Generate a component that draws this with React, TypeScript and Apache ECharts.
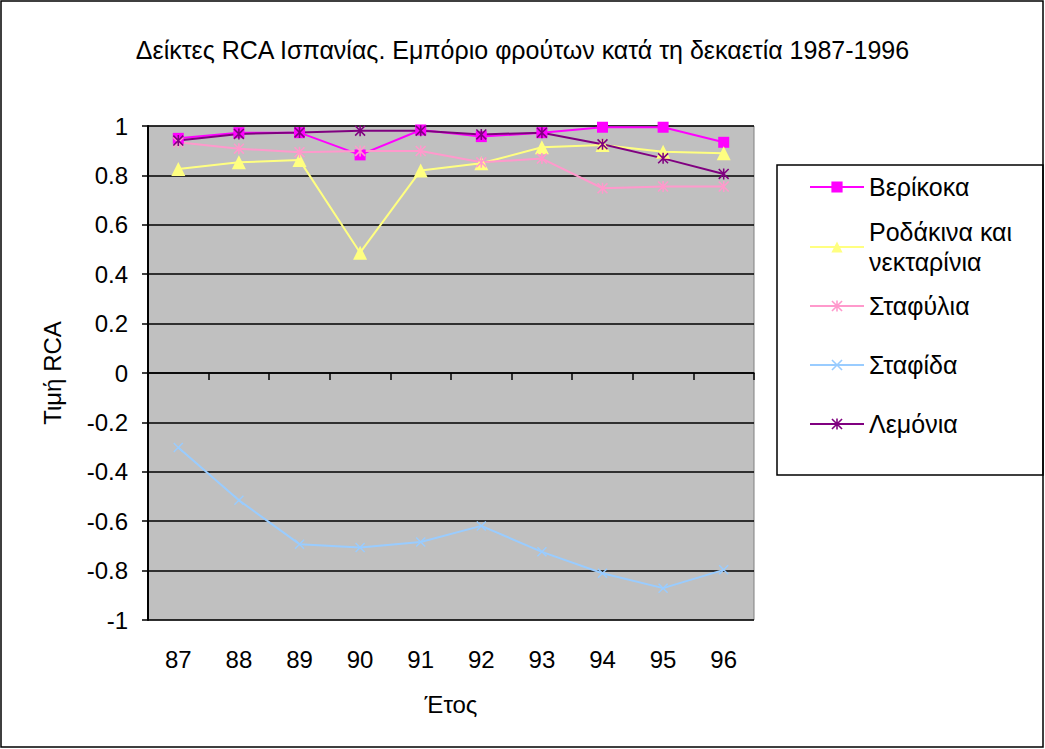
import React, { useEffect, useRef } from "react";
import * as echarts from "echarts";

const titleText = "Δείκτες RCA Ισπανίας. Εμπόριο φρούτων κατά τη δεκαετία 1987-1996";
const years = ["87", "88", "89", "90", "91", "92", "93", "94", "95", "96"];
const seriesNames = ["Βερίκοκα", "Ροδάκινα και νεκταρίνια", "Σταφύλια", "Σταφίδα", "Λεμόνια"];
const apricots = [0.95, 0.973, 0.973, 0.883, 0.984, 0.957, 0.973, 0.995, 0.995, 0.934];
const peaches = [0.826, 0.853, 0.862, 0.487, 0.82, 0.849, 0.914, 0.923, 0.896, 0.89];
const grapes = [0.934, 0.908, 0.894, 0.899, 0.899, 0.853, 0.868, 0.748, 0.755, 0.755];
const raisins = [-0.302, -0.515, -0.693, -0.706, -0.684, -0.619, -0.724, -0.811, -0.871, -0.797];
const lemons = [0.941, 0.968, 0.974, 0.981, 0.981, 0.966, 0.973, 0.926, 0.869, 0.806];
const seriesColors = ["#FF00FF", "#FFFF80", "#FF99CC", "#99CCFF", "#800080"];
const legendCenters = [187, 247, 306, 365, 424];

const FONT = "'Liberation Sans', Arial, sans-serif";
const STAR = "path://M4.3 0H5.7V10H4.3Z M0 1L1 0L10 9L9 10Z M9 0L10 1L1 10L0 9Z";
const CROSS = "path://M0 1L1 0L10 9L9 10Z M9 0L10 1L1 10L0 9Z";

export default function App() {
  const ref = useRef<HTMLDivElement>(null);
  useEffect(() => {
    document.body.style.margin = "0";
    const chart = echarts.init(ref.current!, null, { renderer: "svg" });
    const dataSets = [apricots, peaches, grapes, raisins, lemons];
    const symbols = ["rect", "triangle", STAR, CROSS, STAR];
    const sizes = [11, 14, 11, 10, 11];

    const legends = seriesNames.map((name, i) => {
      const twoLine = i === 1;
      const lh = twoLine ? 30 : 28;
      const blockH = twoLine ? 90 : 28;
      return {
        data: [name],
        orient: "vertical",
        left: 809,
        top: legendCenters[i] - blockH / 2,
        padding: 0,
        itemWidth: 54,
        itemHeight: 14,
        itemGap: 0,
        selectedMode: false,
        formatter: twoLine ? () => "Ροδάκινα και\nνεκταρίνια" : undefined,
        textStyle: {
          fontFamily: FONT,
          fontSize: 25,
          color: "#000",
          lineHeight: lh,
          padding: twoLine ? [30, 0, 0, 0] : 0,
        },
      };
    });

    chart.setOption({
      animation: false,
      backgroundColor: "#fff",
      title: {
        text: titleText,
        left: "center",
        top: 32,
        textStyle: { fontFamily: FONT, fontSize: 25, fontWeight: "normal", color: "#000" },
      },
      legend: legends,
      grid: {
        left: 148,
        right: 291,
        top: 126,
        bottom: 129,
        show: true,
        backgroundColor: "#C0C0C0",
        borderColor: "#808080",
        borderWidth: 1,
      },
      xAxis: [
        {
          type: "category",
          data: years,
          boundaryGap: true,
          axisLine: { onZero: true, lineStyle: { color: "#000", width: 1.5 } },
          axisTick: { show: true, length: 7, lineStyle: { color: "#000", width: 1.5 } },
          axisLabel: { show: false },
        },
        {
          type: "category",
          data: years,
          boundaryGap: true,
          position: "bottom",
          axisLine: { show: false, onZero: false },
          axisTick: { show: false },
          axisLabel: { show: true, margin: 27, fontFamily: FONT, fontSize: 24, color: "#000" },
          name: "Έτος",
          nameLocation: "middle",
          nameGap: 72,
          nameTextStyle: { fontFamily: FONT, fontSize: 24, color: "#000" },
        },
      ],
      yAxis: {
        type: "value",
        min: -1,
        max: 1,
        interval: 0.2,
        axisLine: { show: true, lineStyle: { color: "#000", width: 2 } },
        axisTick: { show: true, length: 6, lineStyle: { color: "#000", width: 1.5 } },
        axisLabel: {
          margin: 20,
          fontFamily: FONT,
          fontSize: 24,
          color: "#000",
          formatter: (v: number) => String(Math.round(v * 10) / 10),
        },
        splitLine: { show: true, lineStyle: { color: "#000", width: 1.5 } },
        name: "Τιμή RCA",
        nameLocation: "middle",
        nameRotate: 90,
        nameGap: 84,
        nameTextStyle: { fontFamily: FONT, fontSize: 24, color: "#000" },
      },
      series: seriesNames.map((name, i) => ({
        name,
        type: "line",
        data: dataSets[i],
        symbol: symbols[i],
        symbolSize: sizes[i],
        showAllSymbol: true,
        lineStyle: { color: seriesColors[i], width: 2 },
        itemStyle: { color: seriesColors[i] },
        emphasis: { disabled: true },
      })),
      graphic: [
        {
          type: "rect",
          shape: { x: 777, y: 165, width: 266, height: 310 },
          style: { fill: "none", stroke: "#000", lineWidth: 1.5 },
          silent: true,
        },
        {
          type: "rect",
          shape: { x: 1, y: 1, width: 1042, height: 746 },
          style: { fill: "none", stroke: "#000", lineWidth: 1.5 },
          silent: true,
        },
      ],
    });
    return () => chart.dispose();
  }, []);
  return (
    <div
      ref={ref}
      style={{ position: "absolute", left: 0, top: 0, width: 1045, height: 749 }}
    />
  );
}
